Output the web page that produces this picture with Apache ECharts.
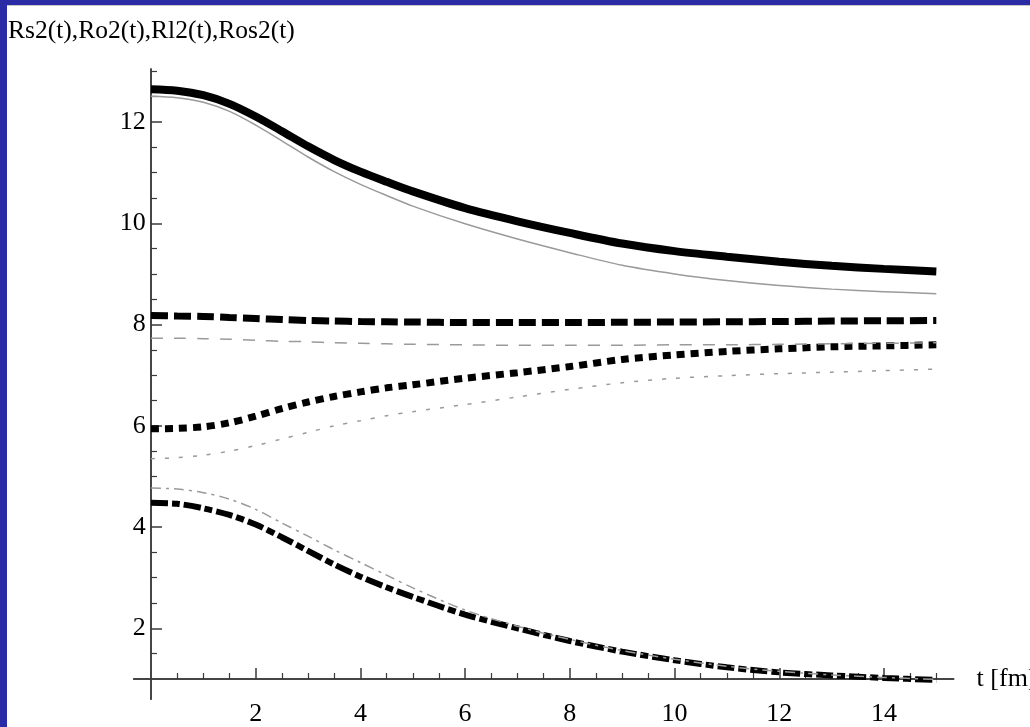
<!DOCTYPE html>
<html>
<head>
<meta charset="utf-8">
<script src="https://cdn.jsdelivr.net/npm/echarts@6/dist/echarts.min.js"></script>
<style>
  html, body { margin: 0; padding: 0; background: #2b2ba6; width: 1030px; height: 727px; overflow: hidden; }
  #chart { position: absolute; left: 7px; top: 5px; width: 1023px; height: 721px; background: #fff; border-top: 1px solid #c8c8c8; }
</style>
</head>
<body>
<div id="chart"></div>
<script>
// time grid (fm) shared by every curve
var tFm = [0, 0.5, 1, 1.5, 2, 2.5, 3, 3.5, 4, 4.5, 5, 6, 7, 8, 9, 10, 11, 12, 13, 14, 15];

// thick black curves
var rs2 = [12.65, 12.62, 12.53, 12.36, 12.11, 11.82, 11.52, 11.25, 11.02, 10.82, 10.63, 10.30, 10.04, 9.81, 9.60, 9.45, 9.34, 9.24, 9.16, 9.10, 9.05];
var ro2 = [8.18, 8.17, 8.16, 8.14, 8.12, 8.10, 8.08, 8.07, 8.06, 8.055, 8.05, 8.04, 8.04, 8.04, 8.045, 8.05, 8.055, 8.06, 8.07, 8.075, 8.08];
var rl2 = [5.94, 5.95, 5.98, 6.06, 6.19, 6.34, 6.47, 6.58, 6.67, 6.75, 6.81, 6.94, 7.05, 7.17, 7.31, 7.40, 7.47, 7.52, 7.56, 7.58, 7.60];
var ros2 = [4.48, 4.46, 4.37, 4.24, 4.05, 3.80, 3.53, 3.26, 3.02, 2.81, 2.62, 2.27, 2.00, 1.75, 1.54, 1.37, 1.23, 1.13, 1.07, 1.02, 0.98];

// thin grey curves
var rs2b = [12.51, 12.48, 12.39, 12.21, 11.94, 11.63, 11.31, 11.02, 10.77, 10.55, 10.34, 9.99, 9.69, 9.42, 9.17, 9.00, 8.87, 8.77, 8.70, 8.65, 8.61];
var ro2b = [7.73, 7.73, 7.72, 7.71, 7.69, 7.67, 7.66, 7.64, 7.63, 7.62, 7.61, 7.60, 7.59, 7.59, 7.59, 7.60, 7.60, 7.61, 7.62, 7.63, 7.64];
var rl2b = [5.35, 5.37, 5.42, 5.50, 5.61, 5.74, 5.87, 6.00, 6.10, 6.20, 6.28, 6.42, 6.57, 6.72, 6.85, 6.94, 6.99, 7.03, 7.06, 7.09, 7.12];
var ros2b = [4.77, 4.75, 4.68, 4.55, 4.35, 4.08, 3.82, 3.55, 3.30, 3.05, 2.80, 2.36, 2.04, 1.78, 1.56, 1.39, 1.25, 1.15, 1.08, 1.03, 0.99];

// tick positions
var xMajor = [2, 4, 6, 8, 10, 12, 14];
var xMinor = [0.5, 1, 1.5, 2.5, 3, 3.5, 4.5, 5, 5.5, 6.5, 7, 7.5, 8.5, 9, 9.5, 10.5, 11, 11.5, 12.5, 13, 13.5, 14.5, 15];
var yMajor = [2, 4, 6, 8, 10, 12];
var yMinor = [1.5, 2.5, 3, 3.5, 4.5, 5, 5.5, 6.5, 7, 7.5, 8.5, 9, 9.5, 10.5, 11, 11.5, 12.5, 13];

var font = 'Liberation Serif';
var axisCol = '#3a3a3a';

function pairs(vals) {
    return tFm.map(function (t, i) { return [t, vals[i]]; });
}

function curve(name, vals, color, width, dash) {
    return {
        name: name,
        type: 'line',
        data: pairs(vals),
        showSymbol: false,
        symbol: 'none',
        smooth: 0.3,
        lineStyle: { color: color, width: width, type: dash, cap: 'butt' },
        xAxisIndex: 0,
        yAxisIndex: 0
    };
}

var xBase = {
    type: 'value', min: -0.33, max: 15.33, position: 'bottom', offset: -20.2,
    splitLine: { show: false },
    axisLine: { onZero: false, lineStyle: { color: axisCol, width: 1.5 } }
};
var yBase = {
    type: 'value', min: 0.6, max: 13.05, position: 'left',
    splitLine: { show: false },
    axisLine: { onZero: true, onZeroAxisIndex: 0, lineStyle: { color: axisCol, width: 1.5 } }
};

var chart = echarts.init(document.getElementById('chart'));
chart.setOption({
    animation: false,
    backgroundColor: '#fff',
    title: {
        text: 'Rs2(t),Ro2(t),Rl2(t),Ros2(t)',
        left: 1, top: 12, padding: 0,
        textStyle: { fontFamily: font, fontSize: 25.5, fontWeight: 'normal', color: '#000' }
    },
    grid: { left: 126.7, right: 76.4, top: 62.9, bottom: 27.8, containLabel: false, outerBoundsMode: 'none' },
    xAxis: [
        Object.assign({}, xBase, {
            name: 't [fm]', nameLocation: 'end', nameGap: 23,
            nameTextStyle: { fontFamily: font, fontSize: 26, color: '#000', padding: [8, 0, 0, 0] },
            axisTick: { inside: true, length: 11, customValues: xMajor, lineStyle: { color: axisCol, width: 1.5 } },
            axisLabel: { customValues: xMajor, margin: 22, fontFamily: font, fontSize: 26, color: '#000' }
        }),
        Object.assign({}, xBase, {
            axisTick: { inside: true, length: 6, customValues: xMinor, lineStyle: { color: axisCol, width: 1.2 } },
            axisLabel: { show: false }
        })
    ],
    yAxis: [
        Object.assign({}, yBase, {
            axisTick: { inside: true, length: 11, customValues: yMajor, lineStyle: { color: axisCol, width: 1.5 } },
            axisLabel: { customValues: yMajor, margin: -12, fontFamily: font, fontSize: 26, color: '#000' }
        }),
        Object.assign({}, yBase, {
            axisTick: { inside: true, length: 6, customValues: yMinor, lineStyle: { color: axisCol, width: 1.2 } },
            axisLabel: { show: false }
        })
    ],
    series: [
        curve('Rs2', rs2, '#000', 8, 'solid'),
        curve('Ro2', ro2, '#000', 7, [17, 6]),
        curve('Rl2', rl2, '#000', 7, [8, 6]),
        curve('Ros2', ros2, '#000', 6, [17, 4, 8, 4]),
        curve('Rs2 ref', rs2b, '#9a9a9a', 1.5, 'solid'),
        curve('Ro2 ref', ro2b, '#9a9a9a', 1.5, [12, 11]),
        curve('Rl2 ref', rl2b, '#9a9a9a', 1.5, [4, 10]),
        curve('Ros2 ref', ros2b, '#9a9a9a', 1.5, [10, 5, 3, 5])
    ]
});
</script>
</body>
</html>
